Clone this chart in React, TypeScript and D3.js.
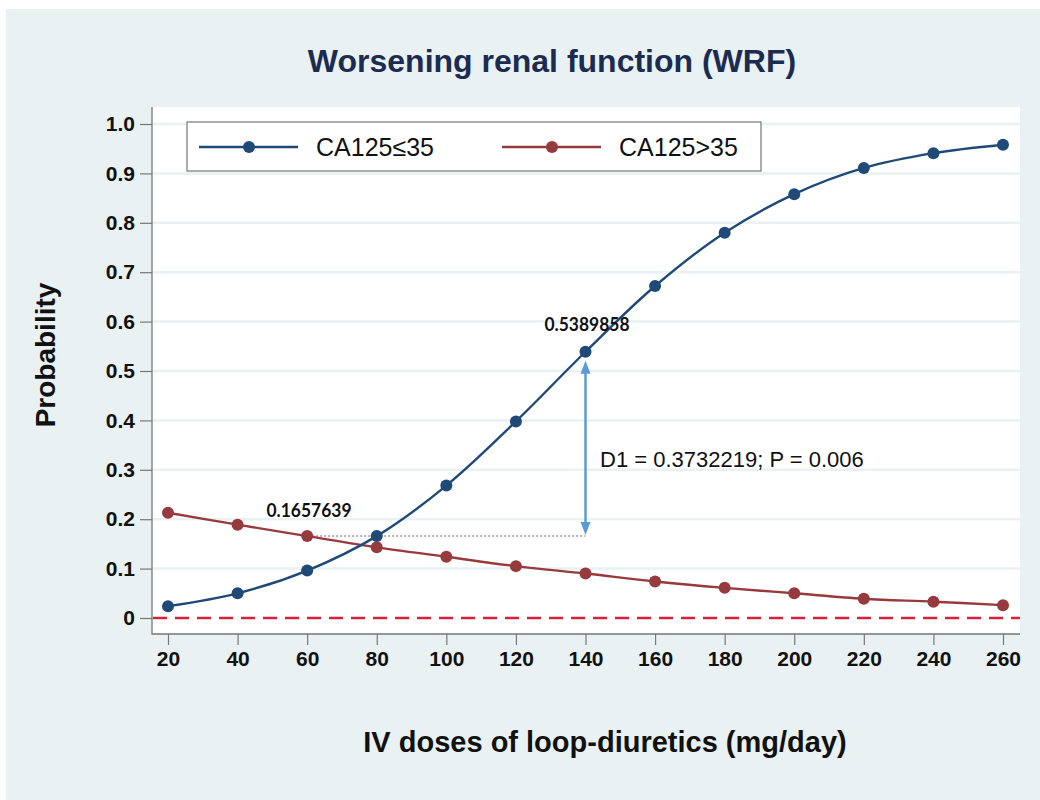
import React, { useEffect, useRef } from "react";
import * as d3 from "d3";

const doses = [20, 40, 60, 80, 100, 120, 140, 160, 180, 200, 220, 240, 260];
const lowCA125 = [0.024, 0.05, 0.096, 0.1657639, 0.268, 0.398, 0.5389858, 0.672, 0.78, 0.858, 0.911, 0.941, 0.958];
const highCA125 = [0.213, 0.189, 0.1657639, 0.143, 0.124, 0.105, 0.09, 0.074, 0.061, 0.05, 0.039, 0.033, 0.026];
const yTicks = [0, 0.1, 0.2, 0.3, 0.4, 0.5, 0.6, 0.7, 0.8, 0.9, 1.0];
const seriesNames = ["CA125≤35", "CA125>35"];
const seriesColors = ["#1f4a78", "#963a3d"];

// annotation: blue at 140 vs red at 60
const refLow = { dose: 60, value: 0.1657639, label: "0.1657639" };
const refHigh = { dose: 140, value: 0.5389858, label: "0.5389858" };
const diffText = "D1 = 0.3732219; P = 0.006";

const W = 1040;
const H = 800;

const App: React.FC = () => {
  const svgRef = useRef<SVGSVGElement | null>(null);

  useEffect(() => {
    if (!svgRef.current) return;
    const svg = d3.select(svgRef.current);
    svg.selectAll("*").remove();

    const bg = "#e9f1f3";
    // panel bounds
    const left = 152;
    const right = 1020;
    const top = 107;
    const bottom = 634;

    const x = d3.scaleLinear().domain([20, 260]).range([168, 1003]);
    const y = d3.scaleLinear().domain([0, 1]).range([618, 124]);

    svg.append("rect").attr("width", W).attr("height", H).attr("fill", "#fff");
    svg.append("rect").attr("x", 6).attr("y", 9).attr("width", W - 6).attr("height", H - 9).attr("fill", bg);
    svg.append("rect").attr("x", left).attr("y", top).attr("width", right - left).attr("height", bottom - top).attr("fill", "#fff");

    // gridlines
    svg.append("g")
      .selectAll("line")
      .data(yTicks.filter((d) => d > 0))
      .join("line")
      .attr("x1", left)
      .attr("x2", right)
      .attr("y1", (d) => y(d))
      .attr("y2", (d) => y(d))
      .attr("stroke", bg)
      .attr("stroke-width", 2.5);

    // y axis
    const yAxis = svg.append("g").attr("transform", `translate(${left},0)`)
      .call(d3.axisLeft(y).tickValues(yTicks).tickSize(12).tickPadding(5)
        .tickFormat((d) => (+d === 0 ? "0" : d3.format(".1f")(+d))));
    yAxis.select(".domain").remove();
    yAxis.selectAll("line").attr("stroke", "#777").attr("stroke-width", 1.2);
    yAxis.selectAll("text")
      .attr("font-family", "Liberation Sans, Arial, sans-serif")
      .attr("font-weight", "bold")
      .attr("font-size", 21)
      .attr("fill", "#111");

    // x axis
    const xAxis = svg.append("g").attr("transform", `translate(0,${bottom})`)
      .call(d3.axisBottom(x).tickValues(doses).tickSize(11).tickPadding(6).tickFormat(d3.format("d")));
    xAxis.select(".domain").remove();
    xAxis.selectAll("line").attr("stroke", "#777").attr("stroke-width", 1.2);
    xAxis.selectAll("text")
      .attr("font-family", "Liberation Sans, Arial, sans-serif")
      .attr("font-weight", "bold")
      .attr("font-size", 21)
      .attr("fill", "#111");

    // axis lines
    svg.append("path")
      .attr("d", `M${left},${top}V${bottom}H${right}`)
      .attr("fill", "none")
      .attr("stroke", "#777")
      .attr("stroke-width", 1.3);

    // zero reference line
    svg.append("line")
      .attr("x1", left + 1)
      .attr("x2", right)
      .attr("y1", y(0))
      .attr("y2", y(0))
      .attr("stroke", "#d9213c")
      .attr("stroke-width", 2.5)
      .attr("stroke-dasharray", "14,8");

    // dotted reference from red point to arrow
    svg.append("line")
      .attr("x1", x(refLow.dose) + 5)
      .attr("x2", x(refHigh.dose))
      .attr("y1", y(refLow.value))
      .attr("y2", y(refLow.value))
      .attr("stroke", "#999")
      .attr("stroke-width", 1.5)
      .attr("stroke-dasharray", "2,2");

    // double arrow
    const ax = x(refHigh.dose);
    const yTop = y(refHigh.value) + 9;
    const yBot = y(refLow.value) - 1;
    const arrowColor = "#5b9bd5";
    svg.append("line")
      .attr("x1", ax).attr("x2", ax)
      .attr("y1", yTop + 8).attr("y2", yBot - 8)
      .attr("stroke", arrowColor).attr("stroke-width", 2.5);
    svg.append("path")
      .attr("d", `M${ax},${yTop}L${ax - 5},${yTop + 13}L${ax + 5},${yTop + 13}Z`)
      .attr("fill", arrowColor);
    svg.append("path")
      .attr("d", `M${ax},${yBot}L${ax - 5},${yBot - 13}L${ax + 5},${yBot - 13}Z`)
      .attr("fill", arrowColor);

    // series lines
    const line = d3.line<number>()
      .x((_, i) => x(doses[i]))
      .y((d) => y(d))
      .curve(d3.curveCatmullRom);

    [highCA125, lowCA125].forEach((vals, k) => {
      const color = k === 0 ? seriesColors[1] : seriesColors[0];
      svg.append("path")
        .datum(vals)
        .attr("fill", "none")
        .attr("stroke", color)
        .attr("stroke-width", 2.4)
        .attr("d", line);
      svg.append("g")
        .selectAll("circle")
        .data(vals)
        .join("circle")
        .attr("cx", (_, i) => x(doses[i]))
        .attr("cy", (d) => y(d))
        .attr("r", 6)
        .attr("fill", color);
    });

    // value labels
    svg.append("text")
      .attr("x", 309)
      .attr("y", 517)
      .attr("text-anchor", "middle")
      .attr("font-family", "Lato, sans-serif")
      .attr("font-weight", "bold")
      .attr("font-size", 18)
      .attr("textLength", 85)
      .attr("lengthAdjust", "spacingAndGlyphs")
      .attr("fill", "#111")
      .text(refLow.label);
    svg.append("text")
      .attr("x", 587)
      .attr("y", 331)
      .attr("text-anchor", "middle")
      .attr("font-family", "Lato, sans-serif")
      .attr("font-weight", "bold")
      .attr("font-size", 18)
      .attr("textLength", 85)
      .attr("lengthAdjust", "spacingAndGlyphs")
      .attr("fill", "#111")
      .text(refHigh.label);
    svg.append("text")
      .attr("x", 600)
      .attr("y", 467)
      .attr("font-family", "Liberation Sans, Arial, sans-serif")
      .attr("font-size", 22)
      .attr("fill", "#111")
      .text(diffText);

    // legend
    const lg = svg.append("g");
    lg.append("rect")
      .attr("x", 187).attr("y", 122).attr("width", 574).attr("height", 49)
      .attr("fill", "#fff").attr("stroke", "#777").attr("stroke-width", 1.2);
    const legendX = [199, 502];
    seriesNames.forEach((name, i) => {
      const lx = legendX[i];
      lg.append("line")
        .attr("x1", lx).attr("x2", lx + 99)
        .attr("y1", 147).attr("y2", 147)
        .attr("stroke", seriesColors[i]).attr("stroke-width", 2.4);
      lg.append("circle").attr("cx", lx + 50).attr("cy", 147).attr("r", 6).attr("fill", seriesColors[i]);
      lg.append("text")
        .attr("x", lx + 117)
        .attr("y", 156)
        .attr("font-family", "Liberation Sans, Arial, sans-serif")
        .attr("font-size", 25)
        .attr("fill", "#111")
        .text(name);
    });

    // titles
    svg.append("text")
      .attr("x", 552)
      .attr("y", 72)
      .attr("text-anchor", "middle")
      .attr("font-family", "Liberation Sans, Arial, sans-serif")
      .attr("font-weight", "bold")
      .attr("font-size", 32)
      .attr("fill", "#1c2b50")
      .text("Worsening renal function (WRF)");
    svg.append("text")
      .attr("x", 605)
      .attr("y", 752)
      .attr("text-anchor", "middle")
      .attr("font-family", "Liberation Sans, Arial, sans-serif")
      .attr("font-weight", "bold")
      .attr("font-size", 29)
      .attr("fill", "#111")
      .text("IV doses of loop-diuretics (mg/day)");
    svg.append("text")
      .attr("transform", "translate(55,355) rotate(-90)")
      .attr("text-anchor", "middle")
      .attr("font-family", "Liberation Sans, Arial, sans-serif")
      .attr("font-weight", "bold")
      .attr("font-size", 28)
      .attr("fill", "#111")
      .text("Probability");
  }, []);

  return (
    <svg
      ref={svgRef}
      width={W}
      height={H}
      style={{ position: "absolute", left: 0, top: 0 }}
    ></svg>
  );
};

export default App;
